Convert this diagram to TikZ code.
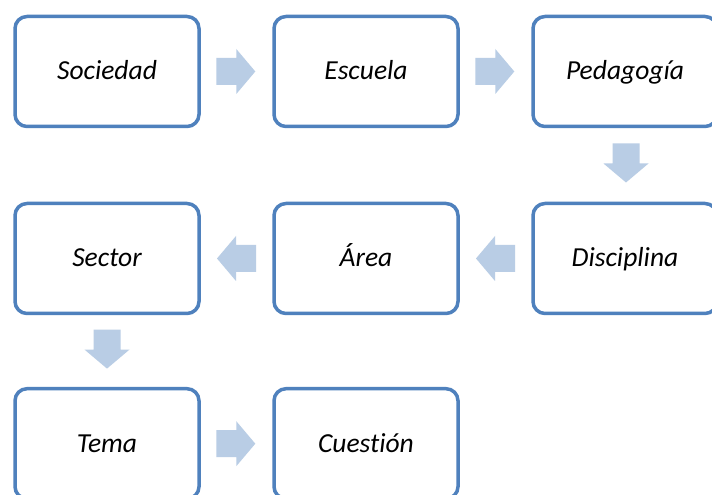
\documentclass[tikz,border=0pt]{standalone}
\usepackage{fontspec}
\setmainfont{Carlito}[Ligatures=NoCommon]
\usetikzlibrary{calc}
\definecolor{boxblue}{RGB}{79,129,189}
\definecolor{arrowfill}{RGB}{185,205,229}
\tikzset{
  x=1pt, y=1pt,
  flowbox/.style={draw=boxblue, line width=3.5pt, rounded corners=12pt, fill=white,
    minimum width=184pt, minimum height=110pt, inner sep=0pt,
    text height=20pt, text depth=3pt,
    font=\fontsize{27.5}{32}\selectfont\itshape},
  barr/.pic={\fill[arrowfill] (-19.5,-13.5) -- (0.5,-13.5) -- (0.5,-22.5) -- (19.5,0)
    -- (0.5,22.5) -- (0.5,13.5) -- (-19.5,13.5) -- cycle;}
}
\begin{document}
\begin{tikzpicture}
\useasboundingbox (0,0) rectangle (712,495);
\clip (0,0) rectangle (712,495);
\fill[white] (0,0) rectangle (712,495);
% row 1
\node[flowbox] (soc) at (107,423.5) {Sociedad};
\node[flowbox] (esc) at (366,423.5) {Escuela};
\node[flowbox] (ped) at (625,423.5) {Pedagogía};
% row 2
\node[flowbox] (sec) at (107,236.5) {Sector};
\node[flowbox] (are) at (366,236.5) {Área};
\node[flowbox] (dis) at (625,236.5) {Disciplina};
% row 3
\node[flowbox] (tem) at (107,51.3) {Tema};
\node[flowbox] (cue) at (366,51.3) {Cuestión};
% arrows
\pic at ($(soc.east)!0.5!(esc.west)+(-0.7,0)$) {barr};
\pic at ($(esc.east)!0.5!(ped.west)+(-0.7,0)$) {barr};
\pic[rotate=-90] at ($(ped.south)!0.5!(dis.north)+(1,2)$) {barr};
\pic[rotate=180] at ($(dis.west)!0.5!(are.east)+(0,0)$) {barr};
\pic[rotate=180] at ($(are.west)!0.5!(sec.east)+(0,0)$) {barr};
\pic[rotate=-90] at ($(sec.south)!0.5!(tem.north)+(0,2)$) {barr};
\pic at ($(tem.east)!0.5!(cue.west)+(-0.7,0)$) {barr};
\end{tikzpicture}
\end{document}
